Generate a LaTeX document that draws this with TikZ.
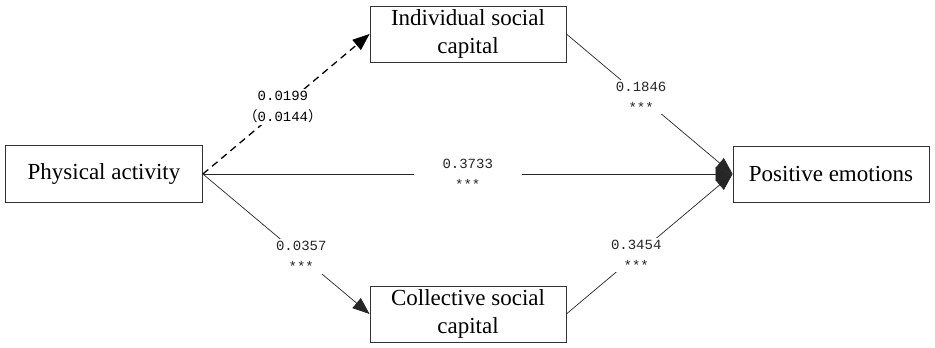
\documentclass[tikz,border=0pt]{standalone}
\usepackage{fontspec}
\setmainfont{Liberation Serif}
\newfontfamily\numfont{Liberation Mono}
\newfontfamily\cjk{Noto Sans CJK SC}
\usepackage{tikz}
\usetikzlibrary{
  arrows.meta,
  positioning
}
\newcommand{\sig}{***}

\begin{document}
\begin{tikzpicture}[
  x=1pt,y=-1pt,
  box/.style={draw=black!80,line width=0.8pt,minimum width=196pt,
              minimum height=56pt,inner sep=2pt,align=center,
              font=\rmfamily\fontsize{23}{28}\selectfont},
  lbl/.style={fill=white,inner sep=2pt,align=center,
              font=\numfont\fontsize{14}{21}\selectfont},
  edge/.style={-{Triangle[length=17pt,width=13pt]},line width=0.7pt,black!85},
  dashedge/.style={edge,line width=1.3pt,black,dash pattern=on 7pt off 5pt},
]
\useasboundingbox (0,0) rectangle (935,348);

\node[box, minimum width=197pt,minimum height=57pt] (pa) at (104,174) {Physical activity};
\node[box] (isc) at (468,34)  {Individual social\\capital};
\node[box] (csc) at (468,314) {Collective social\\capital};
\node[box] (pe)  at (831,174) {Positive emotions};

\draw[dashedge] (pa.east)  -- node[lbl,pos=0.48]{0.0199\\{\cjk（}0.0144{\cjk）}} (isc.west);
\draw[edge]     (isc.east) -- node[lbl,pos=0.45]{0.1846\\\sig} (pe.west);
\draw[edge]     (pa.east)  -- node[lbl,minimum width=108pt]{0.3733\\\sig} (pe.west);
\draw[edge]     (pa.east)  -- node[lbl,pos=0.59]{0.0357\\\sig} (csc.west);
\draw[edge]     (csc.east) -- node[lbl,pos=0.42]{0.3454\\\sig} (pe.west);
\end{tikzpicture}
\end{document}
